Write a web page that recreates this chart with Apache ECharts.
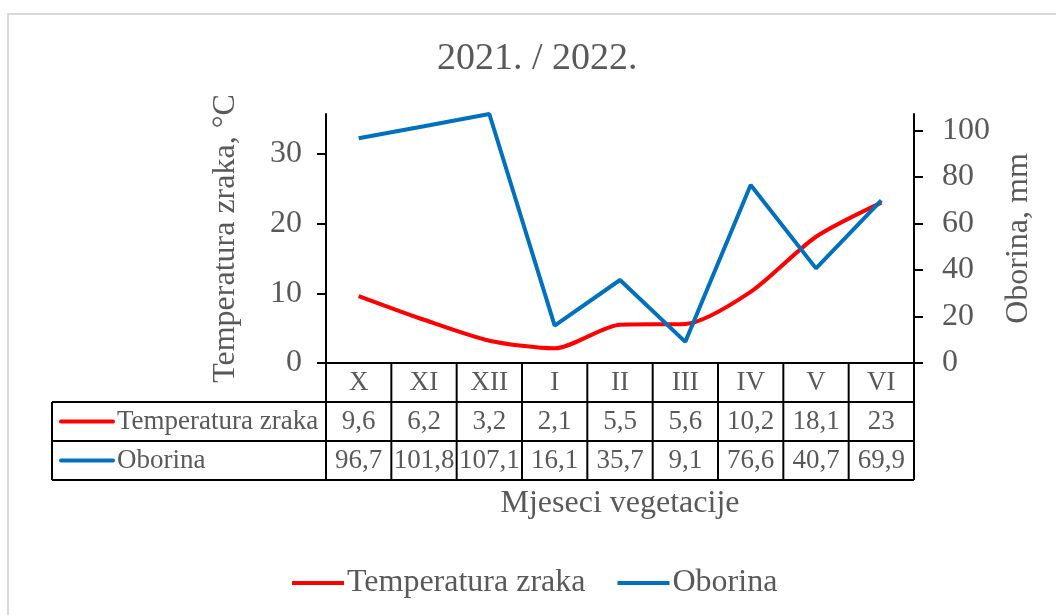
<!DOCTYPE html>
<html><head><meta charset="utf-8">
<script src="https://cdn.jsdelivr.net/npm/echarts@6/dist/echarts.min.js"></script>
<style>html,body{margin:0;padding:0;background:#fff}#c{width:1056px;height:615px}</style>
</head><body><div id="c"></div>
<script>
// ---- data ----
const chartTitle = '2021. / 2022.';
const categories = ['X', 'XI', 'XII', 'I', 'II', 'III', 'IV', 'V', 'VI'];
const tempName = 'Temperatura zraka';
const rainName = 'Oborina';
const temperature = [9.6, 6.2, 3.2, 2.1, 5.5, 5.6, 10.2, 18.1, 23];
const precipitation = [96.7, 101.8, 107.1, 16.1, 35.7, 9.1, 76.6, 40.7, 69.9];
const leftTicks = [0, 10, 20, 30];
const rightTicks = [0, 20, 40, 60, 80, 100];
const leftAxisName = 'Temperatura zraka, °C';
const rightAxisName = 'Oborina, mm';
const xAxisName = 'Mjeseci vegetacije';

// ---- style ----
const FONT = "'Liberation Serif','Times New Roman',serif";
const GRAY = '#595959';
const RED = '#FF0000';
const BLUE = '#0070C0';

const chart = echarts.init(document.getElementById('c'), null, {renderer: 'canvas'});
const fmt = v => String(v).replace('.', ',');

chart.setOption({
  animation: false,
  backgroundColor: '#fff',
  textStyle: {fontFamily: FONT},
  title: {
    text: chartTitle, left: 437, top: 40, padding: 0,
    textStyle: {fontFamily: FONT, fontSize: 38, fontWeight: 'normal', color: GRAY}
  },
  legend: {
    left: 287, top: 562, itemWidth: 52, itemHeight: 14, itemGap: 32,
    icon: 'path://M0,0 L52,0 L52,4 L0,4 Z',
    textStyle: {fontFamily: FONT, fontSize: 32, color: GRAY, padding: [0, 0, 0, -2]},
    data: [tempName, rainName]
  },
  grid: {left: 326, right: 142, top: 114, bottom: 252},
  xAxis: {
    type: 'category', data: categories, boundaryGap: true,
    axisLine: {lineStyle: {color: '#000', width: 2}},
    axisTick: {show: false}, axisLabel: {show: false},
    name: xAxisName, nameLocation: 'middle', nameGap: 125,
    nameTextStyle: {fontFamily: FONT, fontSize: 32, color: GRAY}
  },
  yAxis: [{
    type: 'value', min: 0, max: 35.7, interval: 10,
    axisLine: {show: true, lineStyle: {color: '#000', width: 2}},
    axisTick: {show: true, length: 9, customValues: leftTicks, lineStyle: {color: '#000', width: 2}},
    axisLabel: {customValues: leftTicks, margin: 24, fontFamily: FONT, fontSize: 32, color: GRAY},
    splitLine: {show: false},
    name: leftAxisName, nameLocation: 'middle', nameRotate: 90, nameGap: 84,
    nameTextStyle: {fontFamily: FONT, fontSize: 32, color: GRAY}
  }, {
    type: 'value', min: 0, max: 107.1, interval: 20, position: 'right',
    axisLine: {show: true, lineStyle: {color: '#000', width: 2}},
    axisTick: {show: true, length: 9, customValues: rightTicks, lineStyle: {color: '#000', width: 2}},
    axisLabel: {customValues: rightTicks, margin: 28, fontFamily: FONT, fontSize: 32, color: GRAY},
    splitLine: {show: false},
    name: rightAxisName, nameLocation: 'middle', nameRotate: 90, nameGap: 89,
    nameTextStyle: {fontFamily: FONT, fontSize: 32, color: GRAY}
  }],
  series: [{
    name: tempName, type: 'line', yAxisIndex: 0, data: temperature,
    symbol: 'none', smooth: 0.25,
    lineStyle: {color: RED, width: 4}, itemStyle: {color: RED}
  }, {
    name: rainName, type: 'line', yAxisIndex: 1, data: precipitation,
    symbol: 'none',
    lineStyle: {color: BLUE, width: 4}, itemStyle: {color: BLUE}
  }]
});

// ---- data table under the plot, positioned from the axes ----
const centers = categories.map((c, i) => chart.convertToPixel({xAxisIndex: 0}, i));
const bw = centers[1] - centers[0];
const xL = centers[0] - bw / 2;
const xR = centers[centers.length - 1] + bw / 2;
const y0 = chart.convertToPixel({yAxisIndex: 0}, 0);
const rowH = 39;
const boxLeft = 52;
const g = [];
const line = (x1, y1, x2, y2) => g.push({type: 'line', shape: {x1, y1, x2, y2}, style: {stroke: '#000', lineWidth: 2}, z: 10});
const txt = (x, y, t, align) => g.push({type: 'text', x, y, style: {text: t, fill: GRAY, font: '27px ' + FONT, textAlign: align, textVerticalAlign: 'middle'}, z: 10});

for (let i = 0; i <= categories.length; i++) {
  const x = xL + i * bw;
  line(x, y0, x, y0 + 3 * rowH);
}
line(boxLeft, y0 + rowH, xR, y0 + rowH);
line(boxLeft, y0 + 2 * rowH, xR, y0 + 2 * rowH);
line(boxLeft, y0 + 3 * rowH, xR, y0 + 3 * rowH);
line(boxLeft, y0 + rowH, boxLeft, y0 + 3 * rowH);

categories.forEach((c, i) => {
  txt(centers[i], y0 + rowH * 0.5, c, 'center');
  txt(centers[i], y0 + rowH * 1.5, fmt(temperature[i]), 'center');
  txt(centers[i], y0 + rowH * 2.5, fmt(precipitation[i]), 'center');
});
[[tempName, RED], [rainName, BLUE]].forEach(([n, col], r) => {
  const yy = y0 + rowH * (1.5 + r);
  g.push({type: 'line', shape: {x1: 61, y1: yy, x2: 113, y2: yy}, style: {stroke: col, lineWidth: 4, lineCap: 'round'}, z: 10});
  txt(117, yy, n, 'left');
});
// outer chart border
g.push({type: 'rect', shape: {x: 8, y: 14, width: 1100, height: 700}, style: {fill: 'none', stroke: '#D9D9D9', lineWidth: 2}, z: -1});

chart.setOption({graphic: g});
</script>
</body></html>
